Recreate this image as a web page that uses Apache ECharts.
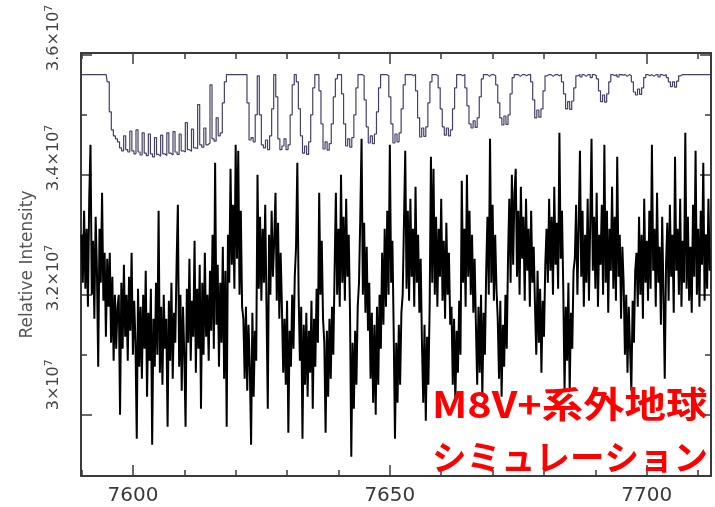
<!DOCTYPE html>
<html>
<head>
<meta charset="utf-8">
<script src="https://cdn.jsdelivr.net/npm/echarts@6/dist/echarts.min.js"></script>
<style>
  html, body { margin: 0; padding: 0; background: #ffffff; }
  #chart { width: 715px; height: 507px; }
</style>
</head>
<body>
<div id="chart"></div>
<script>
// Wavelength grids (Angstrom)
const WAVE_START = 7590.0;
const OBS_STEP = 0.25;
const MODEL_STEP = 0.4;
// Flux arrays are stored in units of 1e5
const FLUX_UNIT = 1e5;

// Observed (noisy) spectrum, one value per OBS_STEP
const observedFlux = [
  330, 322, 334, 321, 331, 318, 336, 345, 320, 329, 316, 333, 324, 308, 331, 322, 337, 319, 327, 313, 326,
  318, 327, 312, 323, 309, 320, 311, 318,
  320, 300, 322, 311, 325, 313, 320, 309, 323, 314,
  327, 310, 319, 312, 296, 321, 308, 318, 306, 320,
  311, 324, 303, 317, 309, 321, 295, 316, 308, 322,
  310, 334, 307, 318, 305, 320, 311, 316, 298, 319,
  309, 322, 306, 317, 312, 325, 335, 308, 320, 304,
  318, 310, 298, 321, 312, 326, 309, 319, 313, 329,
  307, 321, 311, 325, 301, 322, 310, 327, 313, 320,
  309, 324, 314, 330, 311, 342, 315, 325, 308, 322,
  312, 328, 306, 324, 298, 330,
  322, 341, 325, 335, 321, 345, 326, 344, 320, 334, 318,
  316, 306, 318, 304, 315, 308, 295, 317, 303, 314, 309,
  340, 321, 333, 319, 331, 322, 335, 318, 301, 330, 320, 334, 323, 329, 337, 319, 332, 316, 327,
  318, 307, 316, 305, 319, 297, 314, 308, 320, 311, 323,
  328, 342,
  320, 309, 318, 296, 315, 305, 317, 303, 314, 307, 319, 301, 316, 308, 321, 312,
  337, 320, 329, 316,
  312, 297, 314, 303, 316, 306, 318, 310,
  324, 337, 320, 331, 318, 340, 322, 333, 319, 336, 323, 330, 317,
  293, 312, 301, 314, 305, 318,
  322, 333, 346, 320, 332, 317, 328, 314, 322, 306,
  317, 302, 315, 300, 318, 305, 320, 311, 327, 315,
  331, 318, 334, 320, 345, 322, 329,
  314, 296, 312, 302, 315, 305, 317,
  320, 332, 344, 321, 334, 319, 336, 323, 331, 318, 338, 322, 330, 317, 326,
  312, 302, 315, 299, 313, 305, 318,
  343, 322, 341, 320, 333, 318, 331, 323, 336, 319, 329, 316, 332, 320, 327, 315,
  318, 305, 316, 302, 314, 307, 319, 310,
  339, 322, 331, 318, 340, 323, 334, 320, 330, 317, 326,
  315, 305, 318, 307, 320, 303, 317, 310,
  324, 333, 320, 346, 322, 335, 319, 330, 321,
  316, 306, 319, 303, 315, 308, 320, 311,
  326, 336, 322, 340, 325, 337, 341, 323, 334, 320, 338, 326, 333, 319, 336, 324, 331, 318, 334, 322, 328,
  318, 310, 324, 312, 321, 307, 319, 313, 325,
  331, 322, 336, 324, 333, 320, 338, 325, 332, 321, 347, 326, 334,
  321, 304, 318, 309, 322, 304, 317, 311, 324,
  326, 335, 320, 331, 344, 323, 334, 318, 330, 322,
  336, 319, 332, 346, 324, 333, 321, 337, 318, 330,
  325, 335, 320, 345, 322, 334, 317, 331, 324, 338,
  321, 333, 319, 343, 323, 330, 316, 328,
  322, 310, 320, 307, 318, 311, 304, 319, 312, 324,
  327, 318, 333, 320, 330, 316, 336, 322, 329, 319,
  334, 321, 345, 324, 331, 318, 337, 322, 328, 315,
  333, 320, 306, 325, 332, 319, 335, 323, 330, 317,
  343, 324, 331, 320, 336, 318, 329, 322, 347, 321,
  333, 319, 328, 317, 335, 323, 344, 320, 331, 318,
  334, 325, 342, 319, 330, 321, 336, 324
];

// Telluric model spectrum, one value per MODEL_STEP
const modelFlux = [
  356.7, 356.7, 356.7, 356.7, 356.7, 356.7, 356.7, 356.7, 356.7, 356.7,
  356.7, 356.7, 356.7, 355.5, 350.5, 347.5, 346.5, 346.0, 345.5,
  344.5, 344.0, 346.5, 344.2, 343.8, 347.3, 344.0, 343.5, 347.5, 343.8,
  343.3, 347.0, 343.6, 343.2, 346.8, 343.5, 343.0, 346.2, 343.4, 343.1,
  346.6, 343.5, 343.2, 347.0, 343.6, 343.3, 347.2, 343.8, 343.4, 346.8,
  344.0, 343.8, 348.7, 344.2, 343.9, 347.6, 344.5, 344.4, 351.7, 345.0,
  344.6, 347.8, 345.0, 345.3, 355.0, 346.0, 345.6, 349.5, 346.5, 347.0, 352.0, 355.5,
  356.7, 356.7, 356.7, 356.7, 356.7, 356.7, 356.7, 356.7, 356.7, 356.7,
  352.0, 345.8, 346.2, 345.5, 350.0, 356.5, 350.0, 345.0, 344.5, 345.8,
  344.2, 346.5, 351.0, 356.7, 353.0, 346.0, 344.2, 344.8, 346.0, 344.2,
  345.0, 350.0, 355.0, 356.7, 355.5, 351.0, 346.5, 343.6, 344.8, 343.4,
  345.5, 350.0, 354.5, 356.7, 356.7, 354.0, 348.5, 344.3, 345.5, 344.1,
  345.2, 348.5, 353.0, 356.0, 356.7, 356.7, 353.5, 348.5, 344.8, 346.0,
  344.6, 346.2, 350.0, 354.5, 356.7, 356.7, 356.5, 352.5, 348.0, 345.3,
  346.5, 345.2, 346.8, 350.5, 354.5, 356.7, 356.7, 356.7, 356.5, 353.0,
  348.5, 345.3, 346.8, 345.5, 347.0, 351.0, 355.0, 356.7, 356.7, 356.7,
  356.5, 356.7, 354.0, 349.5, 346.3, 347.8, 346.4, 348.0, 352.0, 355.5,
  356.7, 356.7, 356.5, 354.5, 351.0, 348.0, 346.6, 347.8, 346.5, 347.5,
  351.0, 354.5, 356.7, 356.7, 356.5, 356.7, 354.5, 351.5, 348.5, 347.8,
  349.0, 347.9, 349.5, 353.0, 356.0, 356.7, 356.7, 356.4, 356.7, 356.7,
  356.5, 355.0, 352.0, 349.5, 348.3, 349.8, 348.4, 350.0, 353.5, 356.2,
  356.7, 356.7, 356.4, 356.7, 356.7, 356.5, 356.7, 356.7, 355.5, 352.5,
  349.5, 350.8, 349.6, 351.0, 354.0, 356.5, 356.7, 356.7, 356.4, 356.7,
  356.7, 356.5, 356.7, 355.5, 353.5, 351.0, 352.2, 350.9, 352.3, 354.5,
  356.5, 356.7, 356.3, 356.7, 356.4, 356.7, 356.7, 356.2, 356.7, 356.5,
  356.0, 354.0, 352.2, 353.3, 352.1, 353.5, 355.5, 356.7, 356.5, 356.7,
  356.3, 356.7, 356.6, 356.7, 356.4, 356.7, 356.5, 355.5, 353.8, 353.3,
  354.3, 353.4, 354.5, 356.2, 356.7, 356.5, 356.7, 356.4, 356.7, 356.7,
  356.3, 356.7, 356.5, 356.7, 356.2, 355.5, 354.7, 355.5, 354.6, 355.6,
  356.5, 356.7, 356.7, 356.7, 356.7, 356.7, 356.7, 356.7, 356.7, 356.7,
  356.7, 356.7, 356.7, 356.7, 356.7, 356.7
];

// Axis ranges and tick positions
const xRange = [7589.9, 7712.5];
const yRange = [2.898e7, 3.603e7];
const xMajorTicks = [7600, 7650, 7700];
const xMinorTicks = [7590, 7610, 7620, 7630, 7640, 7660, 7670, 7680, 7690, 7710];
const yMajorTicks = [3.0e7, 3.2e7, 3.4e7, 3.6e7];
const yMinorTicks = [3.1e7, 3.3e7, 3.5e7];

const yTitle = 'Relative Intensity';
const noteLine1 = 'M8V+系外地球';
const noteLine2 = 'シミュレーション';

const AXIS_COLOR = '#3a3a3a';
const LABEL_FONT = '"DejaVu Sans", Verdana, sans-serif';

function toPairs(values, step) {
  return values.map((v, i) => [WAVE_START + i * step, v * FLUX_UNIT]);
}

function xAxisDef(position, ticks, len, withLine, withLabels) {
  return {
    type: 'value', position, min: xRange[0], max: xRange[1],
    axisLine: { show: withLine, onZero: false, lineStyle: { color: AXIS_COLOR, width: 2 } },
    axisTick: { show: true, inside: true, length: len, customValues: ticks,
                lineStyle: { color: AXIS_COLOR, width: 1.5 } },
    axisLabel: withLabels ? {
      customValues: xMajorTicks, margin: 10, color: '#3a3a3a',
      fontFamily: LABEL_FONT, fontSize: 20,
      formatter: v => String(v)
    } : { show: false },
    splitLine: { show: false }
  };
}

// "3.4×10^7" style label; shorter labels sit a little higher along the axis
function sciLabel(v) {
  const m = Math.round(v / 1e6) / 10;
  if (Number.isInteger(m)) return '{ms|' + m + '×10}{e|7}';
  return '{m|' + m.toFixed(1) + '×10}{e|7}';
}

function yAxisDef(position, ticks, len, withLine, withLabels) {
  const axis = {
    type: 'value', position, min: yRange[0], max: yRange[1],
    axisLine: { show: withLine, onZero: false, lineStyle: { color: AXIS_COLOR, width: 2 } },
    axisTick: { show: true, inside: true, length: len, customValues: ticks,
                lineStyle: { color: AXIS_COLOR, width: 1.5 } },
    axisLabel: { show: false },
    splitLine: { show: false }
  };
  if (withLabels) {
    axis.axisLabel = {
      customValues: yMajorTicks, rotate: 90, margin: 17, color: '#444',
      fontFamily: LABEL_FONT, fontSize: 16,
      formatter: sciLabel,
      rich: {
        m:  { fontSize: 16, fontFamily: LABEL_FONT, color: '#444', lineHeight: 20, padding: [0, 0, 0, 34] },
        ms: { fontSize: 16, fontFamily: LABEL_FONT, color: '#444', lineHeight: 20, padding: [0, 0, 0, 60] },
        e:  { fontSize: 11, fontFamily: LABEL_FONT, color: '#444', verticalAlign: 'top', lineHeight: 11 }
      }
    };
    axis.name = yTitle;
    axis.nameLocation = 'middle';
    axis.nameRotate = 90;
    axis.nameGap = 44;
    axis.nameTextStyle = { fontFamily: LABEL_FONT, fontSize: 17, color: '#555' };
  }
  return axis;
}

const chart = echarts.init(document.getElementById('chart'), null, { renderer: 'canvas' });

chart.setOption({
  animation: false,
  backgroundColor: '#ffffff',
  grid: { left: 81, right: 4, top: 53, bottom: 31, containLabel: false },
  xAxis: [
    xAxisDef('bottom', xMajorTicks, 11, true, true),
    xAxisDef('bottom', xMinorTicks, 6, false, false),
    xAxisDef('top', xMajorTicks, 11, true, false),
    xAxisDef('top', xMinorTicks, 6, false, false)
  ],
  yAxis: [
    yAxisDef('left', yMajorTicks, 11, true, true),
    yAxisDef('left', yMinorTicks, 6, false, false),
    yAxisDef('right', yMajorTicks, 11, true, false),
    yAxisDef('right', yMinorTicks, 6, false, false)
  ],
  series: [
    {
      name: 'observed', type: 'line', xAxisIndex: 0, yAxisIndex: 0,
      data: toPairs(observedFlux, OBS_STEP),
      showSymbol: false, symbol: 'none', clip: true,
      lineStyle: { color: '#000000', width: 2 },
      z: 2
    },
    {
      name: 'model', type: 'line', xAxisIndex: 0, yAxisIndex: 0,
      data: toPairs(modelFlux, MODEL_STEP),
      step: 'middle', showSymbol: false, symbol: 'none', clip: true,
      lineStyle: { color: '#45406a', width: 1.2 },
      z: 3
    }
  ],
  graphic: [
    {
      type: 'text', x: 432, y: 404, scaleX: 1.15, z: 10,
      style: {
        text: noteLine1, fill: '#ff0000',
        font: 'bold 36px "Noto Sans CJK JP", sans-serif',
        textAlign: 'left', textVerticalAlign: 'middle'
      }
    },
    {
      type: 'text', x: 432, y: 457, z: 10,
      style: {
        text: noteLine2, fill: '#ff0000',
        font: 'bold 34.5px "Noto Sans CJK JP", sans-serif',
        textAlign: 'left', textVerticalAlign: 'middle'
      }
    }
  ]
});
</script>
</body>
</html>
